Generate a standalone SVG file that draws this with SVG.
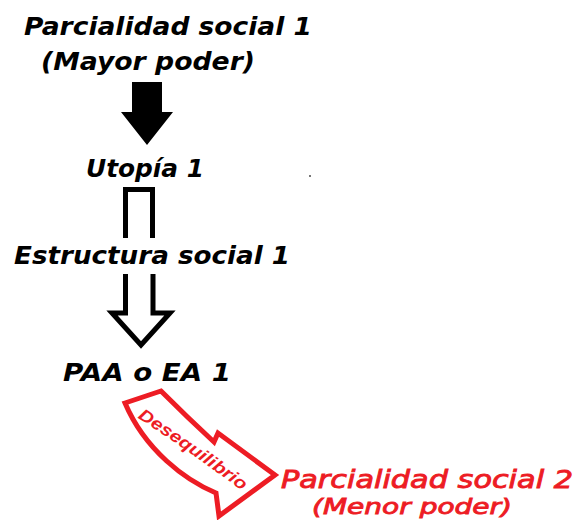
<svg xmlns="http://www.w3.org/2000/svg" width="577" height="520" viewBox="0 0 577 520">
<style>
  .blk { font-family: "DejaVu Sans", Verdana, sans-serif; font-weight: bold; font-style: italic; font-size: 25.5px; fill: #000; }
  .red { font-family: "DejaVu Sans", Verdana, sans-serif; font-weight: normal; font-style: italic; font-size: 25px; fill: #ed1c24; stroke: #ed1c24; stroke-width: 0.9; }
  .red2 { font-size: 22px; }
  .outline { fill: none; stroke: #000; stroke-width: 5; stroke-linejoin: miter; }
  .redarrow { fill: #fff; stroke: #ed1c24; stroke-width: 5; stroke-linejoin: miter; }
  .lbl { font-family: "Liberation Sans", Arial, sans-serif; font-weight: bold; font-style: italic; font-size: 17px; fill: #ed1c24; }
</style>
<defs>
  <path id="lblpath" d="M135,416 Q186,449 248,495"/>
</defs>
<rect width="577" height="520" fill="#fff"/>

<g id="parcialidad1">
  <text class="blk" x="24" y="35" textLength="288" lengthAdjust="spacingAndGlyphs">Parcialidad social  1</text>
  <text class="blk" x="41" y="70" textLength="214" lengthAdjust="spacingAndGlyphs">(Mayor poder)</text>
</g>
<g id="utopia1">
  <text class="blk" x="86" y="177" textLength="118" lengthAdjust="spacingAndGlyphs">Utopía 1</text>
</g>
<g id="estructura1">
  <text class="blk" x="14" y="264" textLength="276" lengthAdjust="spacingAndGlyphs">Estructura social 1</text>
</g>
<g id="paa1">
  <text class="blk" x="63" y="381" textLength="168" lengthAdjust="spacingAndGlyphs">PAA o EA 1</text>
</g>
<g id="parcialidad2">
  <text class="red" x="281" y="488" textLength="292" lengthAdjust="spacingAndGlyphs">Parcialidad social 2</text>
  <text class="red red2" x="312" y="514" textLength="200" lengthAdjust="spacingAndGlyphs">(Menor poder)</text>
</g>

<g id="connectors">
  <polygon points="132,82 162,82 162,112 173,112 147,145 121,112 132,112" fill="#000"/>
  <path class="outline" d="M125.5,238 V189.5 H152.5 V238"/>
  <path class="outline" d="M125.5,274 V313 H112 L141,345 L170,313 H153 V274"/>
  <path class="redarrow" d="M125,403 L161,391 Q188,418 214,442 L218,433 L275,475 L219,516 L216,493 C185,480 145,450 125,403 Z"/>
  <text class="lbl"><textPath href="#lblpath" startOffset="3" textLength="128" lengthAdjust="spacingAndGlyphs">Desequilibrio</textPath></text>
</g>
<rect x="309" y="175" width="2" height="2" fill="#777"/>
</svg>
